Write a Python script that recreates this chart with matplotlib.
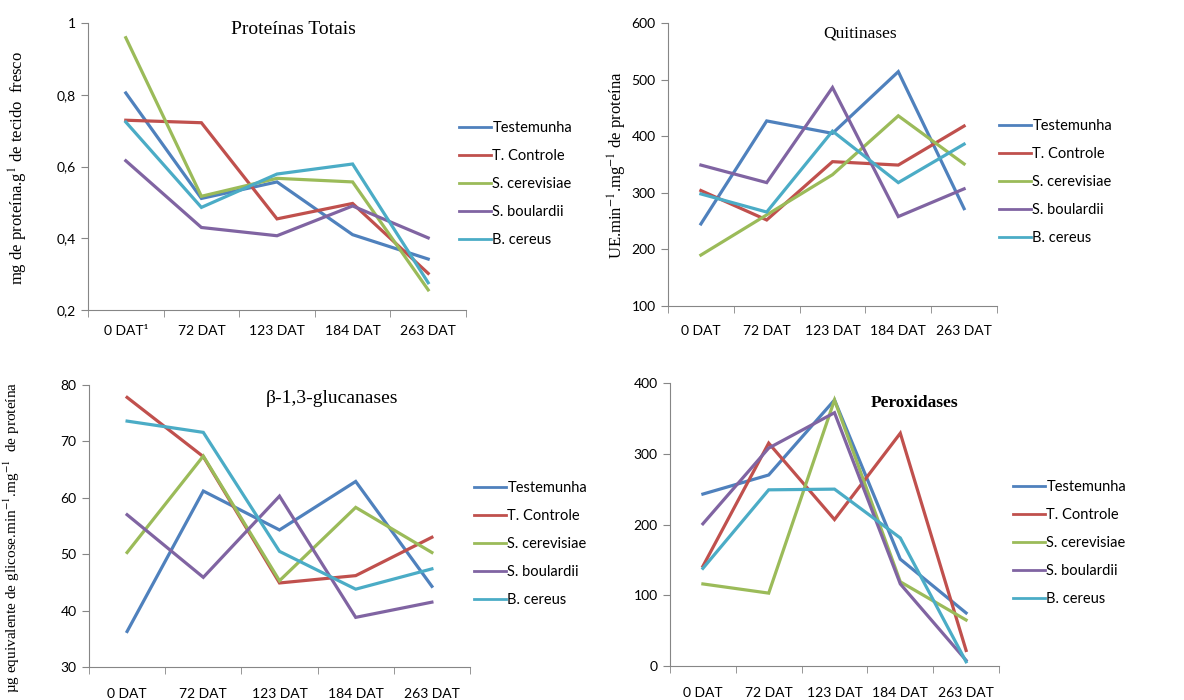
import matplotlib.pyplot as plt
import numpy as np

plt.rcParams['mathtext.fontset'] = 'stix'

dias = ['0 DAT¹', '72 DAT', '123 DAT', '184 DAT', '263 DAT']
dias2 = ['0 DAT', '72 DAT', '123 DAT', '184 DAT', '263 DAT']
tratamentos = ['Testemunha', 'T. Controle', 'S. cerevisiae', 'S. boulardii', 'B. cereus']
cores = ['#4F81BD', '#C0504D', '#9BBB59', '#8064A2', '#4BACC6']

# proteinas totais
prot_test = [0.805, 0.511, 0.557, 0.410, 0.342]
prot_tcont = [0.729, 0.722, 0.454, 0.497, 0.302]
prot_scer = [0.959, 0.517, 0.567, 0.557, 0.256]
prot_sboul = [0.616, 0.430, 0.407, 0.490, 0.401]
prot_bcer = [0.724, 0.486, 0.579, 0.607, 0.276]

# quitinases
quit_test = [245, 427, 405, 514, 272]
quit_tcont = [304, 252, 355, 349, 418]
quit_scer = [190, 261, 332, 436, 351]
quit_sboul = [349, 318, 486, 258, 307]
quit_bcer = [298, 266, 409, 318, 386]

# beta-1,3-glucanases
gluc_test = [36.3, 61.2, 54.3, 62.9, 44.3]
gluc_tcont = [77.8, 67.3, 44.9, 46.2, 53.0]
gluc_scer = [50.3, 67.4, 45.3, 58.3, 50.3]
gluc_sboul = [57.0, 45.9, 60.3, 38.8, 41.5]
gluc_bcer = [73.6, 71.6, 50.5, 43.8, 47.4]

# peroxidases
perox_test = [243, 270, 376, 151, 75]
perox_tcont = [141, 315, 207, 329, 22]
perox_scer = [116, 103, 376, 119, 65]
perox_sboul = [201, 308, 358, 116, 8]
perox_bcer = [138, 249, 250, 181, 6]

W, H = 1184, 700
fig = plt.figure(figsize=(W / 100, H / 100), dpi=100)

def px(x0, y0, x1, y1):
    return [x0 / W, 1 - y1 / H, (x1 - x0) / W, (y1 - y0) / H]

sans = ['Lato', 'DejaVu Sans']
serif = ['Liberation Serif', 'DejaVu Serif']
cinza = '#868686'

def painel(rect, series, labels, yticks, yticklabels, ylim, leg_xy, pad=11):
    ax = fig.add_axes(rect)
    x = np.arange(len(labels))
    for s, nome, c in zip(series, tratamentos, cores):
        ax.plot(x, s, color=c, lw=2.3, label=nome, solid_joinstyle='miter')
    ax.set_xlim(-0.5, len(labels) - 0.5)
    ax.set_ylim(*ylim)
    ax.set_xticks(x)
    ax.set_xticklabels(labels, family=sans, fontsize=10)
    ax.set_xticks(np.arange(-0.5, len(labels)), minor=True)
    ax.tick_params(axis='x', which='major', length=0, pad=pad)
    ax.tick_params(axis='x', which='minor', length=5, color=cinza, direction='out')
    ax.set_yticks(yticks)
    ax.set_yticklabels(yticklabels, family=sans, fontsize=10)
    ax.tick_params(axis='y', length=5, color=cinza, pad=4)
    for s in ['top', 'right']:
        ax.spines[s].set_visible(False)
    for s in ['left', 'bottom']:
        ax.spines[s].set_color(cinza)
    leg = ax.legend(loc='center left', bbox_to_anchor=(leg_xy[0] / W, 1 - leg_xy[1] / H),
                    bbox_transform=fig.transFigure, frameon=False,
                    prop={'family': sans, 'size': 10.5}, handlelength=2.2,
                    handletextpad=0.1, labelspacing=0.95, borderaxespad=0)
    for l in leg.get_lines():
        l.set_linewidth(2)
    return ax

ax1 = painel(px(88, 23, 466, 310),
             [prot_test, prot_tcont, prot_scer, prot_sboul, prot_bcer], dias,
             [0.2, 0.4, 0.6, 0.8, 1.0], ['0,2', '0,4', '0,6', '0,8', '1'],
             (0.2, 1.0), (453, 184))
ax2 = painel(px(668, 23, 997, 306),
             [quit_test, quit_tcont, quit_scer, quit_sboul, quit_bcer], dias2,
             [100, 200, 300, 400, 500, 600], ['100', '200', '300', '400', '500', '600'],
             (100, 600), (993, 182), pad=14)
ax3 = painel(px(89, 385, 470, 667),
             [gluc_test, gluc_tcont, gluc_scer, gluc_sboul, gluc_bcer], dias2,
             [30, 40, 50, 60, 70, 80], ['30', '40', '50', '60', '70', '80'],
             (30, 80), (468, 544), pad=15)
ax4 = painel(px(670, 383, 999, 666),
             [perox_test, perox_tcont, perox_scer, perox_sboul, perox_bcer], dias2,
             [0, 100, 200, 300, 400], ['0', '100', '200', '300', '400'],
             (0, 400), (1007, 543), pad=15)

def ftext(x, y, s, **kw):
    fig.text(x / W, 1 - y / H, s, **kw)

ftext(293, 30, 'Proteínas Totais', family=serif, fontsize=14, ha='center', va='center')
ftext(860, 33, 'Quitinases', family=serif, fontsize=12.5, ha='center', va='center')
ftext(332, 399, 'β-1,3-glucanases', family=serif, fontsize=14, ha='center', va='center')
ftext(915, 403, 'Peroxidases', family=serif, fontsize=12.5, weight='bold', ha='center', va='center')

ftext(18, 168, 'mg de proteína.g$^{1}$ de tecido  fresco', family=serif, fontsize=12,
      rotation=90, ha='center', va='center')
ftext(617, 165, 'UE.min$^{-1}$.mg$^{-1}$ de proteína', family=serif, fontsize=12,
      rotation=90, ha='center', va='center')
ftext(12, 537, 'µg equivalente de glicose.min$^{-1}$.mg$^{-1}$  de proteína', family=serif, fontsize=11,
      rotation=90, ha='center', va='center')

fig.savefig('out.png', dpi=100)
